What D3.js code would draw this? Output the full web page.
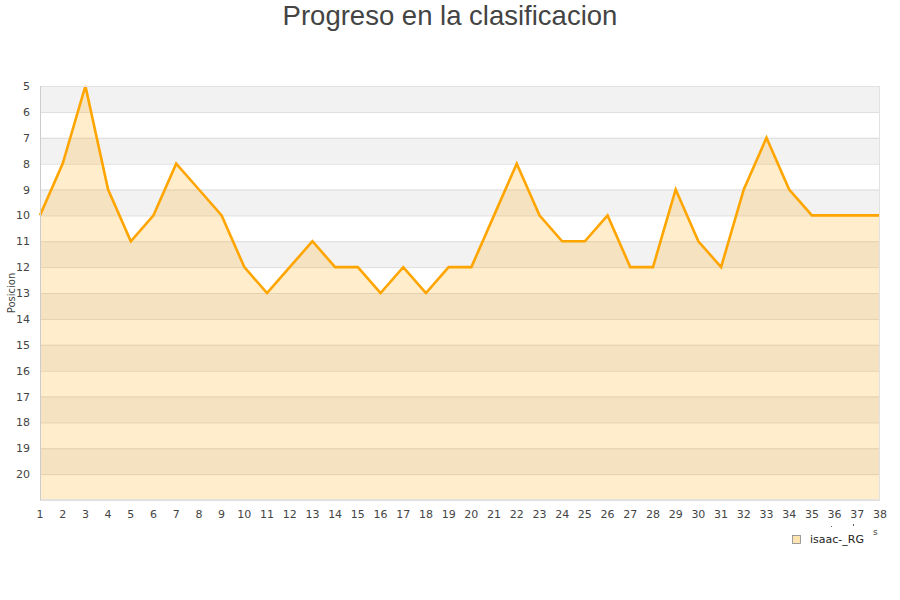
<!DOCTYPE html>
<html><head><meta charset="utf-8">
<script src="https://cdn.jsdelivr.net/npm/d3@7"></script>
<style>body{margin:0;background:#fff}svg{display:block}</style>
</head><body>
<svg id="c" width="900" height="600"></svg>
<script>
const jornadas = d3.range(1, 39);
const posiciones = [10,8,5,9,11,10,8,9,10,12,13,12,11,12,12,13,12,13,12,12,10,8,10,11,11,10,12,12,9,11,12,9,7,9,10,10,10,10];
const yTicks = d3.range(5, 21);
const seriesName = "isaac-_RG";
const title = "Progreso en la clasificacion";
const yTitle = "Posicion";

const svg = d3.select("#c");
const L = 40, R = 880, T = 86, B = 500;
const x = d3.scaleLinear().domain([1, 38]).range([L, R]);
const y = d3.scaleLinear().domain([5, 21]).range([T, B]);

// bands
const bands = d3.range(5, 21);
svg.append("g").selectAll("rect").data(bands).join("rect")
  .attr("x", L).attr("width", R - L)
  .attr("y", d => y(d)).attr("height", d => y(d + 1) - y(d))
  .attr("fill", d => (d % 2 === 1) ? "#f2f2f2" : "#ffffff");

// grid
svg.append("g").selectAll("line").data(d3.range(5, 22)).join("line")
  .attr("x1", L).attr("x2", R).attr("y1", d => y(d) + 0.5).attr("y2", d => y(d) + 0.5)
  .attr("stroke", "#dcdcdc").attr("stroke-width", 1);

// area
const area = d3.area().x((d, i) => x(jornadas[i])).y0(y(21)).y1(d => y(d));
svg.append("path").datum(posiciones).attr("d", area)
  .attr("fill", "#ffa500").attr("fill-opacity", 0.2);
const line = d3.line().x((d, i) => x(jornadas[i])).y(d => y(d));
svg.append("path").datum(posiciones).attr("d", line)
  .attr("fill", "none").attr("stroke", "#ffa500").attr("stroke-width", 2.6).attr("stroke-linejoin", "miter");

// border
svg.append("rect").attr("x", L + 0.5).attr("y", T + 0.5).attr("width", R - L - 1).attr("height", B - T - 1)
  .attr("fill", "none").attr("stroke", "#e2e2e2");
svg.append("line").attr("x1", L + 0.5).attr("x2", L + 0.5).attr("y1", T).attr("y2", B + 1)
  .attr("stroke", "#cccccc");
svg.append("line").attr("x1", L).attr("x2", R).attr("y1", B + 0.5).attr("y2", B + 0.5)
  .attr("stroke", "#e0e0e0");

// axes text
const font = "DejaVu Sans, sans-serif";
svg.append("g").selectAll("text").data(yTicks).join("text")
  .attr("x", 30).attr("y", d => y(d) + 4).attr("text-anchor", "end")
  .attr("font-family", font).attr("font-size", 11).attr("fill", "#444").text(d => d);
svg.append("g").selectAll("text").data(jornadas).join("text")
  .attr("x", d => x(d)).attr("y", 518).attr("text-anchor", "middle")
  .attr("font-family", font).attr("font-size", 11).attr("fill", "#444").text(d => d);

svg.append("text").attr("transform", `translate(15,${(T + B) / 2 + 0}) rotate(-90)`)
  .attr("text-anchor", "middle").attr("font-family", font).attr("font-size", 10).attr("fill", "#444").text(yTitle);

// stray axis-title fragments
svg.append("text").attr("x", 873).attr("y", 535).attr("font-family", font).attr("font-size", 9).attr("fill", "#444").text("s");
svg.append("rect").attr("x", 831).attr("y", 526).attr("width", 1).attr("height", 1).attr("fill", "#666");
svg.append("rect").attr("x", 853).attr("y", 524).attr("width", 1).attr("height", 2).attr("fill", "#666");

// title
svg.append("text").attr("x", 450).attr("y", 25).attr("text-anchor", "middle")
  .attr("font-family", "Liberation Sans, Arial, sans-serif").attr("font-size", 27.5).attr("fill", "#444").text(title);

// legend
svg.append("rect").attr("x", 792.5).attr("y", 535.5).attr("width", 8).attr("height", 8)
  .attr("fill", "#ffe4b3").attr("stroke", "#888").attr("stroke-width", 0.8);
svg.append("text").attr("x", 810).attr("y", 543).attr("font-family", font).attr("font-size", 11).attr("fill", "#222").text(seriesName);
</script>
</body></html>
